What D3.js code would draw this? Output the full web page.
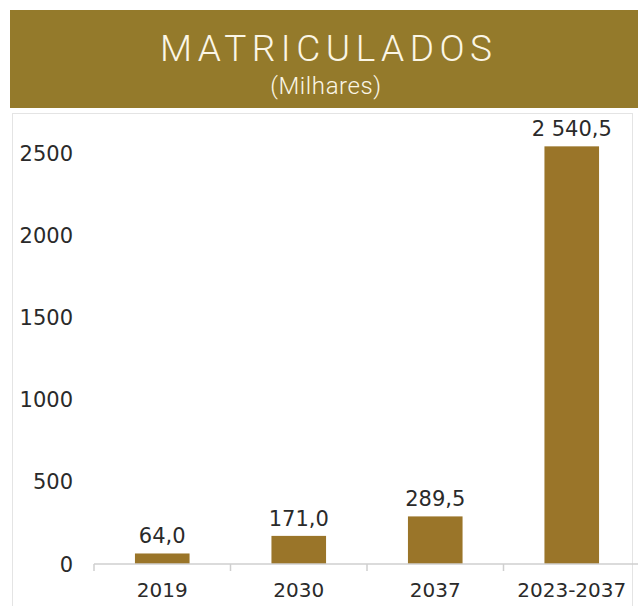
<!DOCTYPE html>
<html>
<head>
<meta charset="utf-8">
<script src="https://cdn.jsdelivr.net/npm/d3@7"></script>
<style>
  html, body { margin: 0; padding: 0; background: #fff; }
  svg { display: block; font-family: "DejaVu Sans", sans-serif; }
</style>
</head>
<body>
<div id="chart"></div>
<script>
const categories = ["2019", "2030", "2037", "2023-2037"];
const values = [64.0, 171.0, 289.5, 2540.5];
const valueLabels = ["64,0", "171,0", "289,5", "2 540,5"];
const yTicks = [0, 500, 1000, 1500, 2000, 2500];

const width = 638, height = 606;
const gold = "#947a2b", barColor = "#9a7529";

const svg = d3.select("#chart").append("svg")
  .attr("width", width).attr("height", height);

// header band
svg.append("rect").attr("x", 10).attr("y", 10).attr("width", width - 10).attr("height", 98).attr("fill", gold);
svg.append("text").attr("x", 326).attr("y", 61).attr("text-anchor", "middle")
  .attr("fill", "#fbf6e6").attr("font-size", 37).attr("font-family", "Roboto, sans-serif").attr("font-weight", 300)
  .attr("textLength", 332).attr("lengthAdjust", "spacing").text("MATRICULADOS");
svg.append("text").attr("x", 326).attr("y", 94).attr("text-anchor", "middle")
  .attr("fill", "#fbf6e6").attr("font-size", 24).attr("font-family", "Roboto, sans-serif").attr("font-weight", 300)
  .attr("letter-spacing", 0.6).text("(Milhares)");

// light frame under header
svg.append("rect").attr("x", 12.5).attr("y", 113.5).attr("width", 620).attr("height", 500)
  .attr("fill", "none").attr("stroke", "#e4e4e4");

const x = d3.scaleBand().domain(categories).range([94, 640]).paddingInner(0.6).paddingOuter(0.3);
const y = d3.scaleLinear().domain([0, 2500]).range([564, 153]);

// y tick labels (no axis line)
svg.append("g").selectAll("text").data(yTicks).join("text")
  .attr("x", 73).attr("y", d => y(d)).attr("dy", "0.36em")
  .attr("text-anchor", "end").attr("font-size", 21).attr("fill", "#2a2a2a")
  .text(d => d);

// bars
svg.append("g").selectAll("rect").data(values).join("rect")
  .attr("x", (d, i) => x(categories[i])).attr("width", x.bandwidth())
  .attr("y", d => y(d)).attr("height", d => y(0) - y(d))
  .attr("fill", barColor);

// value labels
svg.append("g").selectAll("text").data(values).join("text")
  .attr("x", (d, i) => x(categories[i]) + x.bandwidth() / 2)
  .attr("y", d => y(d) - 10).attr("text-anchor", "middle")
  .attr("font-size", 21).attr("fill", "#2a2a2a")
  .text((d, i) => valueLabels[i]);

// x axis with boundary ticks
const xAxis = svg.append("g").attr("transform", `translate(0,${y(0)})`);
xAxis.append("line").attr("x1", 94).attr("x2", 640).attr("stroke", "#cfcfcf").attr("stroke-width", 1.5);
const step = x.step();
xAxis.selectAll(".tk").data(categories).join("line").attr("class", "tk")
  .attr("x1", (d, i) => 94 + i * step).attr("x2", (d, i) => 94 + i * step)
  .attr("y1", 0).attr("y2", 7).attr("stroke", "#cfcfcf").attr("stroke-width", 1.5);
xAxis.selectAll(".lb").data(categories).join("text").attr("class", "lb")
  .attr("x", d => x(d) + x.bandwidth() / 2).attr("y", 33)
  .attr("text-anchor", "middle").attr("font-size", 20).attr("fill", "#2a2a2a")
  .text(d => d);
</script>
</body>
</html>
